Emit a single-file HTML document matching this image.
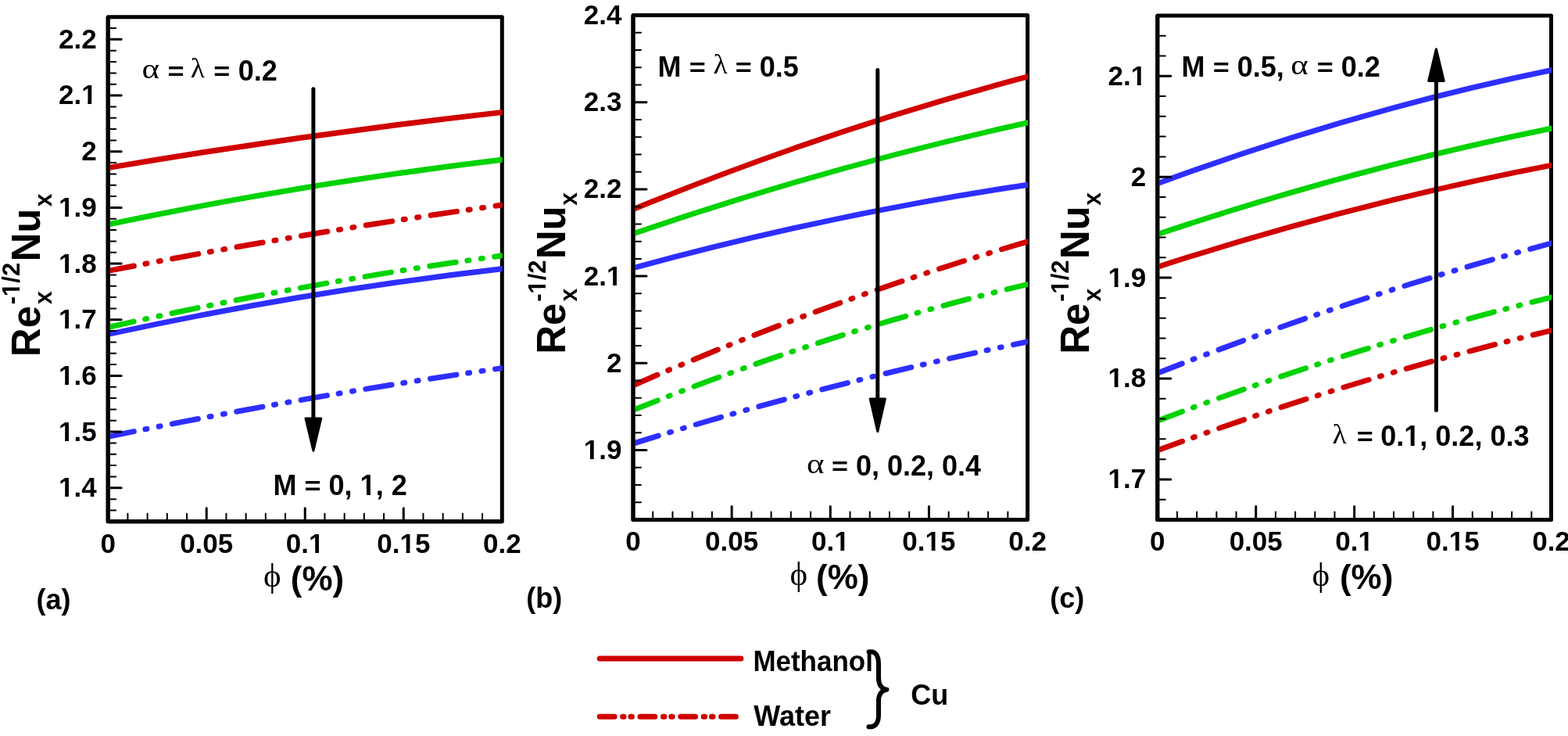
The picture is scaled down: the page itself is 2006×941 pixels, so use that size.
<!DOCTYPE html><html><head><meta charset="utf-8"><title>Nusselt number plots</title>
<style>html,body{margin:0;padding:0;background:#fff;}svg{display:block;}text{font-family:"Liberation Sans",Arial,sans-serif;font-weight:bold;fill:#000;}.g{font-family:"Liberation Serif","Times New Roman",serif;font-weight:normal;}</style></head><body>
<svg width="2006" height="941" viewBox="0 0 2006 941">
<rect width="2006" height="941" fill="#fff"/>
<defs>
<clipPath id="clipa"><rect x="140.6" y="0" width="502.2" height="941"/></clipPath>
<clipPath id="clipb"><rect x="812.4" y="0" width="502.7" height="941"/></clipPath>
<clipPath id="clipc"><rect x="1483.2" y="0" width="501.8" height="941"/></clipPath>
</defs>
<rect x="138.2" y="21.7" width="504.1" height="645.1" fill="none" stroke="#000" stroke-width="5" stroke-linejoin="round"/>
<g clip-path="url(#clipa)" fill="none" stroke-width="7.0">
<path d="M138.2,214.50 Q393.25,171.31 648.30,142.83" stroke="#d00000"/>
<path d="M138.2,287.00 Q393.25,233.68 648.30,203.49" stroke="#00d200"/>
<path d="M138.2,346.40 Q393.25,296.75 648.30,261.26" stroke="#d00000" stroke-dasharray="33.7 14.9 2 15.6 2 15.6" stroke-linecap="round"/>
<path d="M138.2,418.50 Q393.25,360.71 648.30,326.08" stroke="#00d200" stroke-dasharray="33.7 14.9 2 15.6 2 15.6" stroke-linecap="round"/>
<path d="M138.2,427.40 Q393.25,371.94 648.30,343.02" stroke="#2e2eff"/>
<path d="M138.2,558.40 Q393.25,505.81 648.30,469.75" stroke="#2e2eff" stroke-dasharray="33.7 14.9 2 15.6 2 15.6" stroke-linecap="round"/>
</g>
<path d="M138.2,21.7 L138.2,666.8 L642.3,666.8" fill="none" stroke="#000" stroke-width="5" stroke-linejoin="round"/>
<path d="M138.2,623.79h17 M138.2,552.12h17 M138.2,480.44h17 M138.2,408.76h17 M138.2,337.08h17 M138.2,265.40h17 M138.2,193.73h17 M138.2,122.05h17 M138.2,50.37h17 M264.22,666.8v-17 M390.25,666.8v-17 M516.27,666.8v-17" stroke="#000" stroke-width="3" stroke-linecap="round"/>
<path d="M138.2,652.46h10 M138.2,638.13h10 M138.2,609.46h10 M138.2,595.12h10 M138.2,580.79h10 M138.2,566.45h10 M138.2,537.78h10 M138.2,523.44h10 M138.2,509.11h10 M138.2,494.77h10 M138.2,466.10h10 M138.2,451.77h10 M138.2,437.43h10 M138.2,423.10h10 M138.2,394.42h10 M138.2,380.09h10 M138.2,365.75h10 M138.2,351.42h10 M138.2,322.75h10 M138.2,308.41h10 M138.2,294.08h10 M138.2,279.74h10 M138.2,251.07h10 M138.2,236.73h10 M138.2,222.40h10 M138.2,208.06h10 M138.2,179.39h10 M138.2,165.06h10 M138.2,150.72h10 M138.2,136.38h10 M138.2,107.71h10 M138.2,93.38h10 M138.2,79.04h10 M138.2,64.71h10 M138.2,36.04h10 M163.40,666.8v-10 M188.61,666.8v-10 M213.81,666.8v-10 M239.02,666.8v-10 M289.43,666.8v-10 M314.63,666.8v-10 M339.84,666.8v-10 M365.04,666.8v-10 M415.45,666.8v-10 M440.66,666.8v-10 M465.86,666.8v-10 M491.07,666.8v-10 M541.48,666.8v-10 M566.68,666.8v-10 M591.89,666.8v-10 M617.09,666.8v-10" stroke="#000" stroke-width="2" stroke-linecap="round"/>
<g transform="translate(123.6,635.2) scale(1,1.0)"><text font-size="35" text-anchor="end">1.4</text><rect x="-47.43" y="-4.57" width="6.93" height="5.27" fill="#fff"/><rect x="-35.67" y="-4.57" width="6.30" height="5.27" fill="#fff"/></g>
<g transform="translate(123.6,563.5) scale(1,1.0)"><text font-size="35" text-anchor="end">1.5</text><rect x="-47.43" y="-4.57" width="6.93" height="5.27" fill="#fff"/><rect x="-35.67" y="-4.57" width="6.30" height="5.27" fill="#fff"/></g>
<g transform="translate(123.6,491.8) scale(1,1.0)"><text font-size="35" text-anchor="end">1.6</text><rect x="-47.43" y="-4.57" width="6.93" height="5.27" fill="#fff"/><rect x="-35.67" y="-4.57" width="6.30" height="5.27" fill="#fff"/></g>
<g transform="translate(123.6,420.2) scale(1,1.0)"><text font-size="35" text-anchor="end">1.7</text><rect x="-47.43" y="-4.57" width="6.93" height="5.27" fill="#fff"/><rect x="-35.67" y="-4.57" width="6.30" height="5.27" fill="#fff"/></g>
<g transform="translate(123.6,348.5) scale(1,1.0)"><text font-size="35" text-anchor="end">1.8</text><rect x="-47.43" y="-4.57" width="6.93" height="5.27" fill="#fff"/><rect x="-35.67" y="-4.57" width="6.30" height="5.27" fill="#fff"/></g>
<g transform="translate(123.6,276.8) scale(1,1.0)"><text font-size="35" text-anchor="end">1.9</text><rect x="-47.43" y="-4.57" width="6.93" height="5.27" fill="#fff"/><rect x="-35.67" y="-4.57" width="6.30" height="5.27" fill="#fff"/></g>
<g transform="translate(123.6,205.1) scale(1,1.0)"><text font-size="35" text-anchor="end">2</text></g>
<g transform="translate(123.6,133.4) scale(1,1.0)"><text font-size="35" text-anchor="end">2.1</text><rect x="-18.24" y="-4.57" width="6.93" height="5.27" fill="#fff"/><rect x="-6.48" y="-4.57" width="6.30" height="5.27" fill="#fff"/></g>
<g transform="translate(123.6,61.8) scale(1,1.0)"><text font-size="35" text-anchor="end">2.2</text></g>
<g transform="translate(138.2,706.6) scale(1,1.0)"><text font-size="35" text-anchor="middle">0</text></g>
<g transform="translate(264.2,706.6) scale(1,1.0)"><text font-size="35" text-anchor="middle">0.05</text></g>
<g transform="translate(390.2,706.6) scale(1,1.0)"><text font-size="35" text-anchor="middle">0.1</text><rect x="6.09" y="-4.57" width="6.93" height="5.27" fill="#fff"/><rect x="17.85" y="-4.57" width="6.30" height="5.27" fill="#fff"/></g>
<g transform="translate(516.3,706.6) scale(1,1.0)"><text font-size="35" text-anchor="middle">0.15</text><rect x="-3.64" y="-4.57" width="6.93" height="5.27" fill="#fff"/><rect x="8.12" y="-4.57" width="6.30" height="5.27" fill="#fff"/></g>
<g transform="translate(642.3,706.6) scale(1,1.0)"><text font-size="35" text-anchor="middle">0.2</text></g>
<rect x="810.0" y="19.5" width="504.6" height="645.0" fill="none" stroke="#000" stroke-width="5" stroke-linejoin="round"/>
<g clip-path="url(#clipb)" fill="none" stroke-width="7.0">
<path d="M810.0,267.60 Q1065.30,163.32 1320.60,96.53" stroke="#d00000"/>
<path d="M810.0,298.80 Q1065.30,211.47 1320.60,155.58" stroke="#00d200"/>
<path d="M810.0,342.70 Q1065.30,272.89 1320.60,235.41" stroke="#2e2eff"/>
<path d="M810.0,492.70 Q1065.30,381.32 1320.60,307.15" stroke="#d00000" stroke-dasharray="33.7 14.9 2 15.6 2 15.6" stroke-linecap="round"/>
<path d="M810.0,524.40 Q1065.30,421.74 1320.60,362.19" stroke="#00d200" stroke-dasharray="33.7 14.9 2 15.6 2 15.6" stroke-linecap="round"/>
<path d="M810.0,567.10 Q1065.30,487.51 1320.60,435.68" stroke="#2e2eff" stroke-dasharray="33.7 14.9 2 15.6 2 15.6" stroke-linecap="round"/>
</g>
<path d="M810.0,19.5 L810.0,664.5 L1314.6,664.5" fill="none" stroke="#000" stroke-width="5" stroke-linejoin="round"/>
<path d="M810.0,575.53h17 M810.0,464.33h17 M810.0,353.12h17 M810.0,241.91h17 M810.0,130.71h17 M936.15,664.5v-17 M1062.30,664.5v-17 M1188.45,664.5v-17" stroke="#000" stroke-width="3" stroke-linecap="round"/>
<path d="M810.0,642.26h10 M810.0,620.02h10 M810.0,597.78h10 M810.0,553.29h10 M810.0,531.05h10 M810.0,508.81h10 M810.0,486.57h10 M810.0,442.09h10 M810.0,419.84h10 M810.0,397.60h10 M810.0,375.36h10 M810.0,330.88h10 M810.0,308.64h10 M810.0,286.40h10 M810.0,264.16h10 M810.0,219.67h10 M810.0,197.43h10 M810.0,175.19h10 M810.0,152.95h10 M810.0,108.47h10 M810.0,86.22h10 M810.0,63.98h10 M810.0,41.74h10 M835.23,664.5v-10 M860.46,664.5v-10 M885.69,664.5v-10 M910.92,664.5v-10 M961.38,664.5v-10 M986.61,664.5v-10 M1011.84,664.5v-10 M1037.07,664.5v-10 M1087.53,664.5v-10 M1112.76,664.5v-10 M1137.99,664.5v-10 M1163.22,664.5v-10 M1213.68,664.5v-10 M1238.91,664.5v-10 M1264.14,664.5v-10 M1289.37,664.5v-10" stroke="#000" stroke-width="2" stroke-linecap="round"/>
<g transform="translate(795.4,586.9) scale(1,1.0)"><text font-size="35" text-anchor="end">1.9</text><rect x="-47.43" y="-4.57" width="6.93" height="5.27" fill="#fff"/><rect x="-35.67" y="-4.57" width="6.30" height="5.27" fill="#fff"/></g>
<g transform="translate(795.4,475.7) scale(1,1.0)"><text font-size="35" text-anchor="end">2</text></g>
<g transform="translate(795.4,364.5) scale(1,1.0)"><text font-size="35" text-anchor="end">2.1</text><rect x="-18.24" y="-4.57" width="6.93" height="5.27" fill="#fff"/><rect x="-6.48" y="-4.57" width="6.30" height="5.27" fill="#fff"/></g>
<g transform="translate(795.4,253.3) scale(1,1.0)"><text font-size="35" text-anchor="end">2.2</text></g>
<g transform="translate(795.4,142.1) scale(1,1.0)"><text font-size="35" text-anchor="end">2.3</text></g>
<g transform="translate(795.4,30.9) scale(1,1.0)"><text font-size="35" text-anchor="end">2.4</text></g>
<g transform="translate(810.0,704.3) scale(1,1.0)"><text font-size="35" text-anchor="middle">0</text></g>
<g transform="translate(936.1,704.3) scale(1,1.0)"><text font-size="35" text-anchor="middle">0.05</text></g>
<g transform="translate(1062.3,704.3) scale(1,1.0)"><text font-size="35" text-anchor="middle">0.1</text><rect x="6.09" y="-4.57" width="6.93" height="5.27" fill="#fff"/><rect x="17.85" y="-4.57" width="6.30" height="5.27" fill="#fff"/></g>
<g transform="translate(1188.4,704.3) scale(1,1.0)"><text font-size="35" text-anchor="middle">0.15</text><rect x="-3.64" y="-4.57" width="6.93" height="5.27" fill="#fff"/><rect x="8.12" y="-4.57" width="6.30" height="5.27" fill="#fff"/></g>
<g transform="translate(1314.6,704.3) scale(1,1.0)"><text font-size="35" text-anchor="middle">0.2</text></g>
<rect x="1480.8" y="19.9" width="503.7" height="644.6" fill="none" stroke="#000" stroke-width="5" stroke-linejoin="round"/>
<g clip-path="url(#clipc)" fill="none" stroke-width="7.0">
<path d="M1480.8,234.67 Q1735.65,140.31 1990.50,88.48" stroke="#2e2eff"/>
<path d="M1480.8,299.60 Q1735.65,214.11 1990.50,162.99" stroke="#00d200"/>
<path d="M1480.8,341.30 Q1735.65,258.85 1990.50,210.25" stroke="#d00000"/>
<path d="M1480.8,477.10 Q1735.65,377.01 1990.50,309.51" stroke="#2e2eff" stroke-dasharray="33.7 14.9 2 15.6 2 15.6" stroke-linecap="round"/>
<path d="M1480.8,538.00 Q1735.65,441.44 1990.50,378.62" stroke="#00d200" stroke-dasharray="33.7 14.9 2 15.6 2 15.6" stroke-linecap="round"/>
<path d="M1480.8,575.90 Q1735.65,481.77 1990.50,421.17" stroke="#d00000" stroke-dasharray="33.7 14.9 2 15.6 2 15.6" stroke-linecap="round"/>
</g>
<path d="M1480.8,19.9 L1480.8,664.5 L1984.5,664.5" fill="none" stroke="#000" stroke-width="5" stroke-linejoin="round"/>
<path d="M1480.8,612.93h17 M1480.8,484.01h17 M1480.8,355.09h17 M1480.8,226.17h17 M1480.8,97.25h17 M1606.72,664.5v-17 M1732.65,664.5v-17 M1858.57,664.5v-17" stroke="#000" stroke-width="3" stroke-linecap="round"/>
<path d="M1480.8,638.72h10 M1480.8,587.15h10 M1480.8,561.36h10 M1480.8,535.58h10 M1480.8,509.80h10 M1480.8,458.23h10 M1480.8,432.44h10 M1480.8,406.66h10 M1480.8,380.88h10 M1480.8,329.31h10 M1480.8,303.52h10 M1480.8,277.74h10 M1480.8,251.96h10 M1480.8,200.39h10 M1480.8,174.60h10 M1480.8,148.82h10 M1480.8,123.04h10 M1480.8,71.47h10 M1480.8,45.68h10 M1505.98,664.5v-10 M1531.17,664.5v-10 M1556.36,664.5v-10 M1581.54,664.5v-10 M1631.91,664.5v-10 M1657.10,664.5v-10 M1682.28,664.5v-10 M1707.46,664.5v-10 M1757.84,664.5v-10 M1783.02,664.5v-10 M1808.20,664.5v-10 M1833.39,664.5v-10 M1883.76,664.5v-10 M1908.94,664.5v-10 M1934.13,664.5v-10 M1959.32,664.5v-10" stroke="#000" stroke-width="2" stroke-linecap="round"/>
<g transform="translate(1466.2,624.3) scale(1,1.0)"><text font-size="35" text-anchor="end">1.7</text><rect x="-47.43" y="-4.57" width="6.93" height="5.27" fill="#fff"/><rect x="-35.67" y="-4.57" width="6.30" height="5.27" fill="#fff"/></g>
<g transform="translate(1466.2,495.4) scale(1,1.0)"><text font-size="35" text-anchor="end">1.8</text><rect x="-47.43" y="-4.57" width="6.93" height="5.27" fill="#fff"/><rect x="-35.67" y="-4.57" width="6.30" height="5.27" fill="#fff"/></g>
<g transform="translate(1466.2,366.5) scale(1,1.0)"><text font-size="35" text-anchor="end">1.9</text><rect x="-47.43" y="-4.57" width="6.93" height="5.27" fill="#fff"/><rect x="-35.67" y="-4.57" width="6.30" height="5.27" fill="#fff"/></g>
<g transform="translate(1466.2,237.6) scale(1,1.0)"><text font-size="35" text-anchor="end">2</text></g>
<g transform="translate(1466.2,108.7) scale(1,1.0)"><text font-size="35" text-anchor="end">2.1</text><rect x="-18.24" y="-4.57" width="6.93" height="5.27" fill="#fff"/><rect x="-6.48" y="-4.57" width="6.30" height="5.27" fill="#fff"/></g>
<g transform="translate(1480.8,704.3) scale(1,1.0)"><text font-size="35" text-anchor="middle">0</text></g>
<g transform="translate(1606.7,704.3) scale(1,1.0)"><text font-size="35" text-anchor="middle">0.05</text></g>
<g transform="translate(1732.7,704.3) scale(1,1.0)"><text font-size="35" text-anchor="middle">0.1</text><rect x="6.09" y="-4.57" width="6.93" height="5.27" fill="#fff"/><rect x="17.85" y="-4.57" width="6.30" height="5.27" fill="#fff"/></g>
<g transform="translate(1858.6,704.3) scale(1,1.0)"><text font-size="35" text-anchor="middle">0.15</text><rect x="-3.64" y="-4.57" width="6.93" height="5.27" fill="#fff"/><rect x="8.12" y="-4.57" width="6.30" height="5.27" fill="#fff"/></g>
<g transform="translate(1984.5,704.3) scale(1,1.0)"><text font-size="35" text-anchor="middle">0.2</text></g>
<text class="g" x="337.1" y="750.3" font-size="43">&#x3D5;</text>
<text x="371.8" y="755.0" font-size="44">(%)</text>
<text class="g" x="1010.4" y="748.0" font-size="43">&#x3D5;</text>
<text x="1044.1" y="753.1" font-size="44">(%)</text>
<text class="g" x="1678.4" y="748.6" font-size="43">&#x3D5;</text>
<text x="1713.9" y="752.9" font-size="44">(%)</text>
<g transform="translate(51.0,456.2) rotate(-90) scale(1,1.03)"><text x="0" y="0" font-size="51">Re</text><text x="67.2" y="14.6" font-size="30">x</text><text x="67.0" y="-24.85" font-size="31">-1/2</text><rect x="78.41" y="-29.01" width="6.14" height="4.86" fill="#fff"/><rect x="88.82" y="-29.01" width="5.58" height="4.86" fill="#fff"/><text x="121.6" y="0" font-size="51">Nu</text><text x="192.0" y="14.6" font-size="30">x</text></g>
<g transform="translate(723.2,452.8) rotate(-90) scale(1,1.03)"><text x="0" y="0" font-size="51">Re</text><text x="67.2" y="14.6" font-size="30">x</text><text x="67.0" y="-24.85" font-size="31">-1/2</text><rect x="78.41" y="-29.01" width="6.14" height="4.86" fill="#fff"/><rect x="88.82" y="-29.01" width="5.58" height="4.86" fill="#fff"/><text x="121.6" y="0" font-size="51">Nu</text><text x="190.0" y="14.6" font-size="30">x</text></g>
<g transform="translate(1393.0,452.8) rotate(-90) scale(1,1.03)"><text x="0" y="0" font-size="51">Re</text><text x="67.2" y="14.6" font-size="30">x</text><text x="67.0" y="-24.85" font-size="31">-1/2</text><rect x="78.41" y="-29.01" width="6.14" height="4.86" fill="#fff"/><rect x="88.82" y="-29.01" width="5.58" height="4.86" fill="#fff"/><text x="121.6" y="0" font-size="51">Nu</text><text x="190.0" y="14.6" font-size="30">x</text></g>
<line x1="400.9" y1="113.8" x2="400.9" y2="535.4" stroke="#000" stroke-width="5" stroke-linecap="round"/>
<path d="M391.0,534.9 L410.8,534.9 L400.9,576.1 Z" fill="#000" stroke="#000" stroke-width="3" stroke-linejoin="round"/>
<line x1="1122.8" y1="89.6" x2="1122.8" y2="510.5" stroke="#000" stroke-width="5" stroke-linecap="round"/>
<path d="M1113.2,510.0 L1132.4,510.0 L1122.8,551.6 Z" fill="#000" stroke="#000" stroke-width="3" stroke-linejoin="round"/>
<line x1="1837.4" y1="524.5" x2="1837.4" y2="102.9" stroke="#000" stroke-width="5" stroke-linecap="round"/>
<path d="M1827.7,103.4 L1847.2,103.4 L1837.4,62.7 Z" fill="#000" stroke="#000" stroke-width="3" stroke-linejoin="round"/>
<text class="g" transform="translate(181.4,99.8) scale(1.19,1)" font-size="36">&#x3B1;</text>
<text transform="translate(214.4,91.88) scale(1,0.87)" x="0" y="11.92" font-size="36">=</text>
<text class="g" transform="translate(243.8,99.2) scale(1.06,1)" font-size="35.5">&#x3BB;</text>
<text transform="translate(273.2,91.88) scale(1,0.87)" x="0" y="11.92" font-size="36">=</text>
<text x="304.7" y="103.0" font-size="36">0.2</text>
<text x="349.6" y="632.8" font-size="36">M</text>
<text transform="translate(389.6,621.68) scale(1,0.87)" x="0" y="11.92" font-size="36">=</text>
<text x="420.6" y="632.8" font-size="36">0, 1, 2</text>
<rect x="461.90" y="628.13" width="7.13" height="5.37" fill="#fff"/><rect x="474.00" y="628.13" width="6.48" height="5.37" fill="#fff"/>
<text x="841.6" y="97.6" font-size="36">M</text>
<text transform="translate(881.8,86.48) scale(1,0.87)" x="0" y="11.92" font-size="36">=</text>
<text class="g" transform="translate(912.5,94.2) scale(1.06,1)" font-size="35.5">&#x3BB;</text>
<text transform="translate(940.7,86.48) scale(1,0.87)" x="0" y="11.92" font-size="36">=</text>
<text x="971.7" y="97.6" font-size="36">0.5</text>
<text class="g" transform="translate(1032.1,605.1) scale(1.19,1)" font-size="36">&#x3B1;</text>
<text transform="translate(1064.0,596.58) scale(1,0.87)" x="0" y="11.92" font-size="36">=</text>
<text x="1094.9" y="607.7" font-size="36">0, 0.2, 0.4</text>
<text x="1511.6" y="97.7" font-size="36">M</text>
<text transform="translate(1551.8,86.58) scale(1,0.87)" x="0" y="11.92" font-size="36">=</text>
<text x="1582.8" y="97.7" font-size="36">0.5,</text>
<text class="g" transform="translate(1651.2,95.4) scale(1.19,1)" font-size="36">&#x3B1;</text>
<text transform="translate(1684.8,86.58) scale(1,0.87)" x="0" y="11.92" font-size="36">=</text>
<text x="1715.7" y="97.7" font-size="36">0.2</text>
<text class="g" transform="translate(1704.6,567.1) scale(1.06,1)" font-size="35.5">&#x3BB;</text>
<text transform="translate(1735.7,559.08) scale(1,0.87)" x="0" y="11.92" font-size="36">=</text>
<text x="1766.3" y="570.2" font-size="36">0.1, 0.2, 0.3</text>
<rect x="1797.58" y="565.53" width="7.13" height="5.37" fill="#fff"/><rect x="1809.68" y="565.53" width="6.48" height="5.37" fill="#fff"/>
<text x="46.4" y="778.8" font-size="36">(a)</text>
<text x="673.2" y="776.8" font-size="36">(b)</text>
<text x="1343.2" y="776.8" font-size="36">(c)</text>
<line x1="767.2" y1="842" x2="947.9" y2="842" stroke="#d00000" stroke-width="7" stroke-linecap="round"/>
<line x1="767.2" y1="916.2" x2="941.4" y2="916.2" stroke="#d00000" stroke-width="7" stroke-linecap="round" stroke-dasharray="18.9 10.55 1.5 8.8 1.5 10.52"/>
<text x="963.4" y="858.0" font-size="36" textLength="153.5" lengthAdjust="spacingAndGlyphs">Methanol</text>
<text x="964.3" y="928.0" font-size="36">Water</text>
<text x="1165.2" y="900.5" font-size="36">Cu</text>
<path d="M1111.5,833.5 C1119.5,832 1124,837.5 1124,849 L1124,867 C1124,876 1128.5,881 1134.5,881.7 C1128.5,882.5 1124,887 1124,896 L1124,914 C1124,925 1119.5,930 1111.5,929.3" fill="none" stroke="#000" stroke-width="6" stroke-linecap="round" stroke-linejoin="round"/>
</svg></body></html>
